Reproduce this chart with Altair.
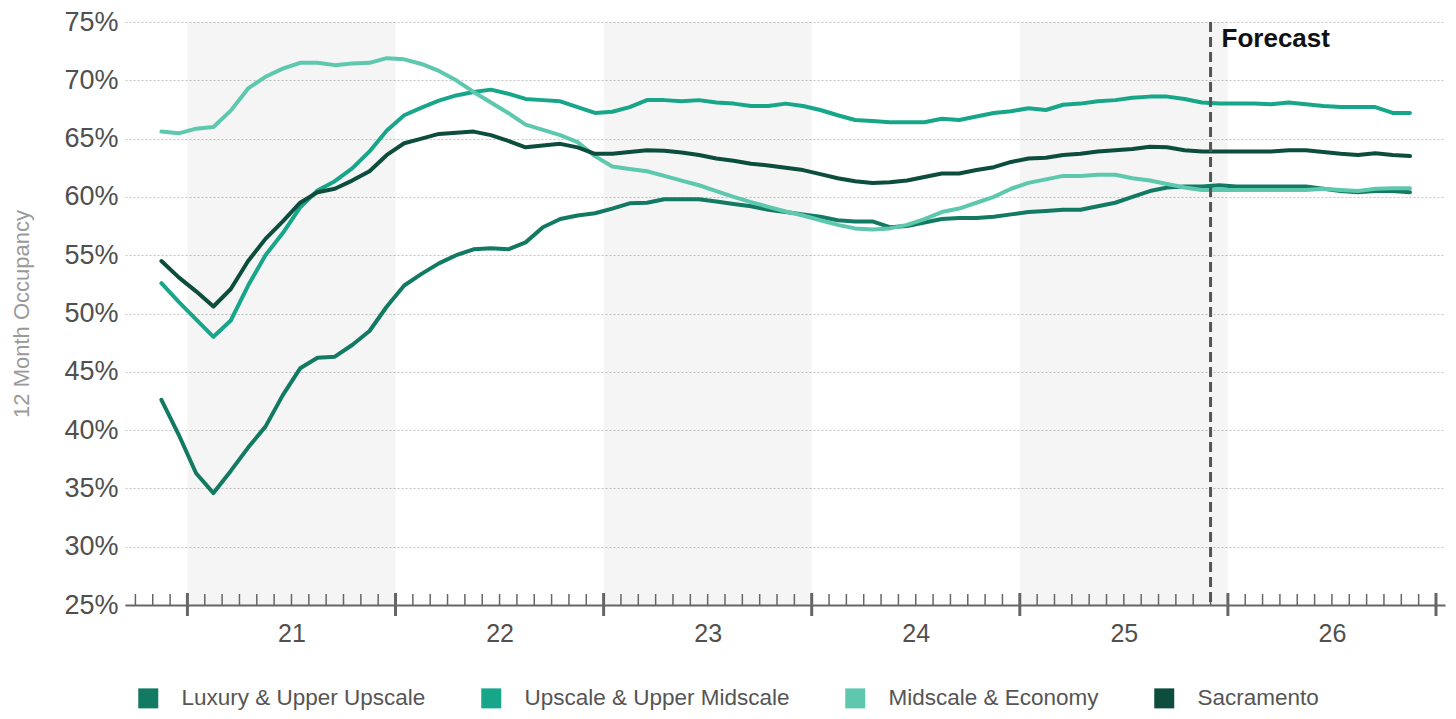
import json

import altair as alt
import pandas as pd

FONT = "Liberation Sans"

# 12-month occupancy (%), one value per month starting Nov 2020
first_month = "2020-11"
series_names = [
    "Luxury & Upper Upscale",
    "Upscale & Upper Midscale",
    "Midscale & Economy",
    "Sacramento",
]
series_colors = ["#127a63", "#17a68a", "#5dc8ae", "#0c4d3e"]

luxury = [
    42.6, 39.6, 36.3, 34.6, 36.5, 38.5, 40.3, 43.0, 45.3, 46.2,
    46.3, 47.3, 48.5, 50.6, 52.4, 53.4, 54.3, 55.0, 55.5, 55.6,
    55.5, 56.1, 57.4, 58.1, 58.4, 58.6, 59.0, 59.45, 59.5, 59.8,
    59.8, 59.8, 59.6, 59.4, 59.2, 58.9, 58.7, 58.5, 58.3, 58.0,
    57.9, 57.9, 57.4, 57.5, 57.8, 58.1, 58.2, 58.2, 58.3, 58.5,
    58.7, 58.8, 58.9, 58.9, 59.2, 59.5, 60.0, 60.5, 60.8, 60.9,
    60.9, 61.0, 60.9, 60.9, 60.9, 60.9, 60.9, 60.7, 60.5, 60.4,
    60.5, 60.5, 60.4,
]
upscale = [
    52.6, 51.0, 49.5, 48.0, 49.4, 52.4, 55.0, 56.9, 59.1, 60.55,
    61.35, 62.45, 63.9, 65.7, 67.0, 67.65, 68.25, 68.7, 69.0, 69.2,
    68.85, 68.4, 68.3, 68.2, 67.7, 67.2, 67.3, 67.7, 68.3, 68.3,
    68.2, 68.3, 68.1, 68.0, 67.8, 67.8, 68.0, 67.8, 67.45, 67.0,
    66.6, 66.5, 66.4, 66.4, 66.4, 66.7, 66.6, 66.9, 67.2, 67.35,
    67.6, 67.45, 67.9, 68.0, 68.2, 68.3, 68.5, 68.6, 68.6, 68.4,
    68.1, 68.0, 68.0, 68.0, 67.95, 68.1, 67.95, 67.8, 67.7, 67.7,
    67.7, 67.2, 67.2,
]
midscale = [
    65.6, 65.45, 65.85, 66.0, 67.4, 69.3, 70.3, 71.0, 71.5, 71.5,
    71.3, 71.45, 71.5, 71.9, 71.8, 71.4, 70.8, 70.0, 69.0, 68.1,
    67.2, 66.2, 65.75, 65.3, 64.7, 63.5, 62.6, 62.4, 62.2, 61.8,
    61.4, 61.0, 60.5, 60.0, 59.55, 59.15, 58.75, 58.4, 58.0, 57.6,
    57.3, 57.2, 57.3, 57.6, 58.1, 58.7, 59.0, 59.5, 60.0, 60.7,
    61.2, 61.5, 61.8, 61.8, 61.9, 61.9, 61.6, 61.4, 61.1, 60.8,
    60.6, 60.6, 60.6, 60.6, 60.6, 60.6, 60.6, 60.7, 60.6, 60.5,
    60.7, 60.75, 60.75,
]
sacramento = [
    54.5, 53.1, 51.9, 50.6, 52.1, 54.5, 56.4, 57.9, 59.5, 60.4,
    60.7, 61.4, 62.2, 63.6, 64.6, 65.0, 65.4, 65.5, 65.6, 65.3,
    64.8, 64.25, 64.4, 64.55, 64.25, 63.7, 63.7, 63.85, 64.0, 63.95,
    63.8, 63.6, 63.3, 63.1, 62.85, 62.7, 62.5, 62.3, 61.95, 61.6,
    61.35, 61.2, 61.25, 61.4, 61.7, 62.0, 62.0, 62.3, 62.55, 63.0,
    63.3, 63.35, 63.6, 63.7, 63.9, 64.0, 64.1, 64.3, 64.25, 64.0,
    63.9, 63.9, 63.9, 63.9, 63.9, 64.0, 64.0, 63.85, 63.7, 63.6,
    63.75, 63.6, 63.5,
]

year_labels = ["21", "22", "23", "24", "25", "26"]
shaded_years = ["21", "23", "25"]
forecast_start = "2025-12"
forecast_label = "Forecast"
y_ticks = [25, 30, 35, 40, 45, 50, 55, 60, 65, 70, 75]

# ---- helpers: months counted from Jan of the first labelled year ----
base_year = 2000 + int(year_labels[0])


def month_offset(period):
    return (period.year - base_year) * 12 + (period.month - 1)


periods = pd.period_range(first_month, periods=len(luxury), freq="M")
t_mid = [month_offset(p) + 0.5 for p in periods]

rows = []
for name, values in zip(series_names, [luxury, upscale, midscale, sacramento]):
    for t, v in zip(t_mid, values):
        rows.append({"series": name, "t": t, "value": v})
df = pd.DataFrame(rows)

W, H = 1320, 583
x_scale = alt.Scale(domain=[-3.6, 72.52], nice=False, zero=False)
y_scale = alt.Scale(domain=[25, 75], nice=False, zero=False)

year_starts = [12 * i for i in range(len(year_labels) + 1)]
year_mids = [12 * i + 6 for i in range(len(year_labels))]
month_ticks = [m for m in range(-3, year_starts[-1] + 1) if m % 12 != 0]

label_expr = "{}[floor(datum.value / 12)]".format(json.dumps(year_labels))

# one shared x-axis definition, repeated on every layer that uses x
x_axis = alt.Axis(
    values=year_mids, labelExpr=label_expr, ticks=False, grid=False,
    domainColor="#666666", domainWidth=2, labelFont=FONT, labelFontSize=25,
    labelColor="#505050", labelPadding=16, title=None,
)
y_axis = alt.Axis(
    values=y_ticks, labelExpr="datum.value + '%'", domain=False, ticks=False,
    grid=True, gridColor="#c4c4c4", gridDash=[2, 2], gridWidth=1,
    labelFont=FONT, labelFontSize=27, labelColor="#505050", labelPadding=7,
    title="12 Month Occupancy", titleFont=FONT, titleFontSize=22,
    titleColor="#9a9a9a", titleFontWeight="normal", titlePadding=30,
)


def xenc(field):
    return alt.X(field, scale=x_scale, axis=x_axis)


# alternating year bands
band_df = pd.DataFrame({
    "start": [month_offset(pd.Period(f"{2000 + int(y)}-01", freq="M")) for y in shaded_years],
})
band_df["end"] = band_df["start"] + 12
bands = alt.Chart(band_df).mark_rect(color="#000000", opacity=0.04).encode(
    x=xenc("start:Q"),
    x2="end:Q",
    y=alt.value(0),
    y2=alt.value(H),
)

minor = alt.Chart(pd.DataFrame({"t": month_ticks})).mark_rule(
    color="#666666", strokeWidth=1.5
).encode(
    x=xenc("t:Q"),
    y=alt.value(H - 11),
    y2=alt.value(H),
)
major = alt.Chart(pd.DataFrame({"t": year_starts})).mark_rule(
    color="#666666", strokeWidth=3
).encode(
    x=xenc("t:Q"),
    y=alt.value(H - 12),
    y2=alt.value(H + 11),
)

lines = alt.Chart(df).mark_line(
    strokeWidth=4, strokeJoin="round", strokeCap="round"
).encode(
    x=xenc("t:Q"),
    y=alt.Y("value:Q", scale=y_scale, axis=y_axis),
    stroke=alt.Stroke(
        "series:N", scale=alt.Scale(domain=series_names, range=series_colors),
        sort=series_names, legend=None,
    ),
    order="t:Q",
)

# legend swatches (filled squares) carried by an empty layer on the fill channel
legend_layer = alt.Chart(
    pd.DataFrame({"series": pd.Series([], dtype=str)})
).mark_square(opacity=1).encode(
    fill=alt.Fill(
        "series:N", scale=alt.Scale(domain=series_names, range=series_colors),
        sort=series_names,
        legend=alt.Legend(
            title=None, orient="none", legendX=12, legendY=665,
            direction="horizontal", columns=4, symbolType="square",
            symbolSize=400, symbolStrokeWidth=0, symbolOpacity=1,
            labelFont=FONT, labelFontSize=22.5, labelColor="#555555",
            labelOffset=22, columnPadding=54, labelLimit=500,
        ),
    )
)

fc_df = pd.DataFrame({
    "t": [month_offset(pd.Period(forecast_start, freq="M"))],
    "label": [forecast_label],
})
fc_rule = alt.Chart(fc_df).mark_rule(
    color="#555555", strokeWidth=3, strokeDash=[10, 5]
).encode(
    x=xenc("t:Q"),
    y=alt.value(0),
    y2=alt.value(H),
)
fc_text = alt.Chart(fc_df).mark_text(
    align="left", baseline="alphabetic", dx=11, font=FONT, fontSize=26,
    fontWeight="bold", color="#111111",
).encode(
    x=xenc("t:Q"),
    y=alt.value(25),
    text="label:N",
)

chart = alt.layer(
    bands, minor, major, lines, legend_layer, fc_rule, fc_text
).properties(
    width=W, height=H,
    autosize="none",
    padding={"left": 125, "top": 22, "right": 11, "bottom": 114},
    background="white",
).resolve_scale(fill="independent", stroke="independent").configure_view(stroke=None)

chart.save("out.html", embed_options={"renderer": "svg", "actions": False})
